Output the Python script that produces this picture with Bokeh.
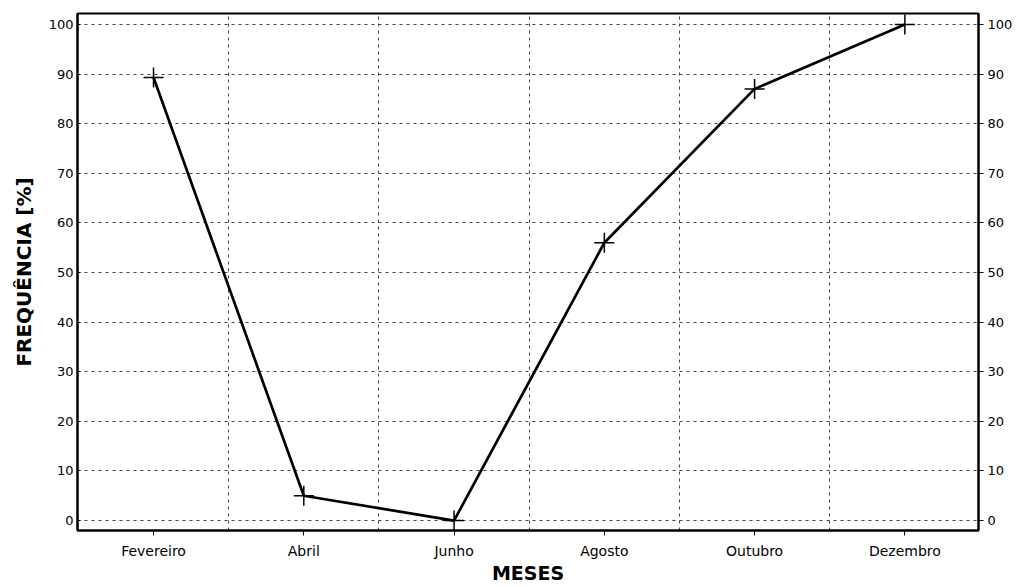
from bokeh.plotting import figure
from bokeh.models import FixedTicker, LinearAxis, Range1d
from bokeh.embed import file_html
from bokeh.resources import INLINE

months = ["Fevereiro", "Abril", "Junho", "Agosto", "Outubro", "Dezembro"]
freq = [89.3, 5, 0, 56, 87, 100]
y_ticks = [0, 10, 20, 30, 40, 50, 60, 70, 80, 90, 100]

xs = list(range(len(months)))

p = figure(width=1016, height=587, output_backend="svg", toolbar_location=None,
           x_range=Range1d(-0.506, 5.49), y_range=Range1d(-2.0, 102.2),
           min_border_left=77, min_border_right=38, min_border_top=13, min_border_bottom=57)

p.line(xs, freq, line_color="black", line_width=2.7)
p.scatter(xs, freq, marker="cross", size=20, line_color="black", line_width=1.5)

p.xaxis.ticker = FixedTicker(ticks=xs)
p.xaxis.major_label_overrides = {i: m for i, m in enumerate(months)}
p.yaxis.ticker = FixedTicker(ticks=y_ticks)

right = LinearAxis(ticker=FixedTicker(ticks=y_ticks))
p.add_layout(right, "right")

p.xgrid.ticker = FixedTicker(ticks=[0.5, 1.5, 2.5, 3.5, 4.5])
for g in (p.xgrid, p.ygrid):
    g.grid_line_color = "#444444"
    g.grid_line_dash = "3 4"
    g.grid_line_width = 1

p.xaxis.axis_label = "MESES"
p.yaxis[0].axis_label = "FREQUÊNCIA [%]"

for ax in p.axis:
    ax.axis_line_color = "black"
    ax.axis_line_width = 2
    ax.major_tick_line_color = "black"
    ax.major_tick_out = 5
    ax.major_tick_in = 0
    ax.minor_tick_line_color = None
    ax.major_label_text_font = "DejaVu Sans"
    ax.major_label_text_font_size = "13px"
    ax.major_label_text_color = "black"
    ax.major_label_standoff = 4
    ax.axis_label_text_font = "DejaVu Sans"
    ax.axis_label_text_font_size = "20px"
    ax.axis_label_text_font_style = "bold"
    ax.axis_label_text_color = "black"
    ax.axis_label_standoff = 4

p.xaxis.major_label_text_font_size = "14px"
p.xaxis.major_label_standoff = 7
p.xaxis.axis_label_standoff = 0
p.xaxis.axis_label_text_font_size = "19px"
p.yaxis[0].major_tick_out = 0
p.yaxis[0].major_tick_in = 3
p.yaxis[0].axis_label_standoff = 10

p.outline_line_color = "black"
p.outline_line_width = 2
p.outline_line_alpha = 1

open("out.html", "w").write(file_html(p, INLINE))
